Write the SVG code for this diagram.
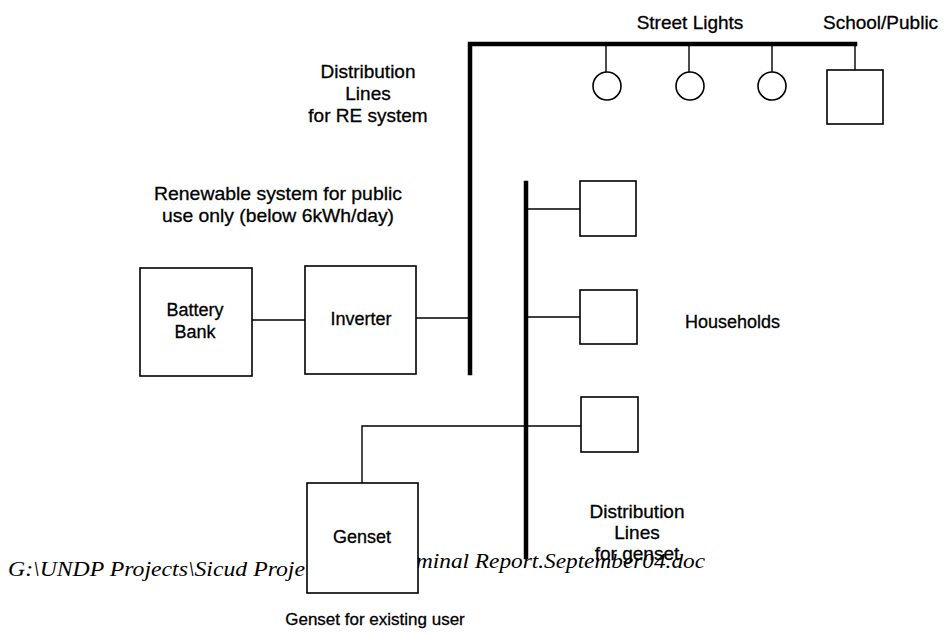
<svg xmlns="http://www.w3.org/2000/svg" width="945" height="635" viewBox="0 0 945 635">
<style>
.t{font-family:"Liberation Sans",Arial,sans-serif;font-size:18px;fill:#000;stroke:#000;stroke-width:0.3}
.l{font-size:19px}
.c{text-anchor:middle}
.f{font-family:"Liberation Serif","Times New Roman",serif;font-style:italic;font-size:20px;fill:#000}
.box{fill:#fff;stroke:#000;stroke-width:1.6}
.ln{fill:none;stroke:#000;stroke-width:1.4}
.bus{fill:none;stroke:#000;stroke-width:4.5;stroke-linecap:square}
</style>
<rect width="945" height="635" fill="#fff"/>
<g id="footer">
<text class="f" x="8" y="576" textLength="297" lengthAdjust="spacingAndGlyphs">G:\UNDP Projects\Sicud Proje</text>
<text class="f" x="416" y="568" textLength="289" lengthAdjust="spacingAndGlyphs">minal Report.September04.doc</text>
</g>
<g id="connectors">
<path class="bus" d="M470,373 V44 H855"/>
<path class="bus" d="M526,183 V557"/>
<path class="ln" d="M606,44 V72 M689,44 V72 M772,44 V72 M855,44 V70"/>
<path class="ln" d="M252,320 H305"/>
<path class="ln" d="M416,318 H470"/>
<path class="ln" d="M526,209 H580 M526,317 H580"/>
<path class="ln" d="M362,483 V426 H581"/>
</g>
<g id="light1"><circle class="box" cx="607" cy="86" r="14"/></g>
<g id="light2"><circle class="box" cx="690" cy="86" r="14"/></g>
<g id="light3"><circle class="box" cx="772" cy="86" r="14"/></g>
<g id="school"><rect class="box" x="827" y="70" width="56" height="54"/></g>
<g id="battery"><rect class="box" x="140" y="268" width="112" height="108"/>
<text class="t c" x="195" y="316">Battery</text><text class="t c" x="195" y="338">Bank</text></g>
<g id="inverter"><rect class="box" x="305" y="266" width="111" height="108"/>
<text class="t c" x="361" y="325">Inverter</text></g>
<g id="hh1"><rect class="box" x="580" y="181" width="56" height="55"/></g>
<g id="hh2"><rect class="box" x="580" y="290" width="57" height="54"/></g>
<g id="hh3"><rect class="box" x="581" y="397" width="57" height="55"/></g>
<g id="genset"><rect class="box" x="307" y="483" width="111" height="110"/>
<text class="t c" x="362" y="543">Genset</text></g>
<g id="labels">
<text class="t l c" x="690" y="29">Street Lights</text>
<text class="t l" x="823" y="29">School/Public</text>
<text class="t l c" x="368" y="78">Distribution</text>
<text class="t l c" x="368" y="100">Lines</text>
<text class="t l c" x="368" y="122">for RE system</text>
<text class="t l c" x="278" y="200" textLength="248" lengthAdjust="spacingAndGlyphs">Renewable system for public</text>
<text class="t l c" x="278" y="222" textLength="232" lengthAdjust="spacingAndGlyphs">use only (below 6kWh/day)</text>
<text class="t" x="685" y="328">Households</text>
<text class="t l c" x="637" y="518">Distribution</text>
<text class="t l c" x="637" y="539">Lines</text>
<text class="t l c" x="637" y="560">for genset</text>
<text class="t c" x="375" y="625" style="font-size:17px">Genset for existing user</text>
</g>
</svg>
